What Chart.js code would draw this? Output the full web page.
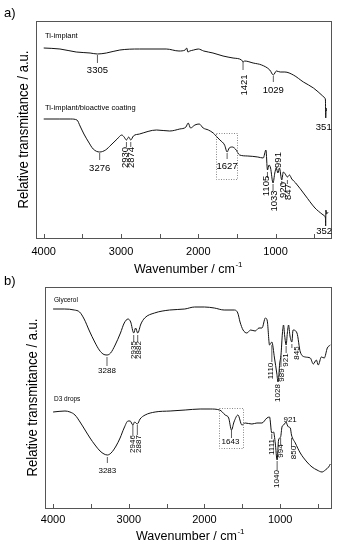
<!DOCTYPE html>
<html><head><meta charset="utf-8">
<script src="https://cdn.jsdelivr.net/npm/chart.js@4"></script>
<style>
html,body{margin:0;padding:0;background:#fff;width:339px;height:550px;overflow:hidden}
.w{position:absolute;left:0;width:339px;height:275px}
canvas{display:block}
</style></head>
<body>
<div class="w" style="top:0"><canvas id="ca" width="339" height="275"></canvas></div>
<div class="w" style="top:275px"><canvas id="cb" width="339" height="275"></canvas></div>
<script>
// ---------------- DATA (wavenumber in cm-1, relative transmittance in a.u.) ----------------
const tiImplantWn = [4000,3790,3580,3400,3305,3190,3015,2760,2415,2250,2170,2150,2135,2110,2060,2000,1930,1810,1680,1550,1440,1421,1400,1290,1180,1075,1029,990,940,880,770,640,510,390,362,355,351,347,343];
const tiImplantT  = [190,189,186,185,184,185,188,189,189,187,188,190,186,187,188,189,187,185,182,180,178,176,177,175,173,168,163,167,166,166,163,156,150,142,140,138,120,130,127];

const bioCoatWn = [4000,3800,3650,3570,3530,3480,3420,3360,3276,3200,3130,3050,2990,2960,2930,2900,2874,2840,2760,2540,2370,2240,2160,2131,2100,2044,1988,1937,1870,1807,1770,1720,1660,1627,1600,1560,1520,1465,1360,1230,1160,1125,1105,1085,1065,1033,1010,991,970,950,920,900,875,847,820,790,740,620,490,400,365,355,352,349,340,320];
const bioCoatT  = [119,119,119,118,112,104,96,89,86,88,93,99,103,101,98,101,98,102,104,108,107,109,111,115,110,113,114,110,108,105,102,98,93,86,90,91,89,83,82,81,80,88,68,73,70,55,65,70,65,70,58,66,64,61,63,59,55,43,30,24,22,20,12,28,24,26];

const glycerolWn = [4000,3850,3720,3650,3590,3520,3450,3390,3340,3288,3240,3180,3110,3060,3010,2975,2935,2910,2882,2840,2790,2660,2460,2260,2130,2000,1870,1740,1610,1560,1530,1490,1440,1390,1330,1280,1240,1195,1170,1140,1110,1075,1045,1028,1005,989,970,955,940,921,905,889,870,845,830,778,734,668,602,562,522,496,456,417,377,337];
const glycerolT  = [199,199,198,196,189,177,166,158,154,153,155,163,175,185,189,186,175,180,175,184,190,195,198,199,201,201,200,198,198,195,186,178,175,178,177,180,180,190,187,163,166,150,135,126,145,153,175,183,172,163,175,183,172,166,178,175,156,151,150,144,148,143,151,150,160,163];

const d3DropsWn = [4000,3843,3777,3711,3644,3578,3512,3446,3380,3327,3283,3234,3168,3115,3062,3009,2982,2946,2923,2887,2851,2784,2652,2454,2255,2057,1925,1800,1726,1680,1643,1610,1558,1505,1462,1373,1307,1241,1175,1140,1111,1087,1065,1040,1021,994,976,955,933,921,906,889,866,850,800,734,646,579,513,447,403,360,337];
const d3DropsT  = [96,97,96,93,86,78,70,63,57,54,53,55,62,70,80,87,87,83,86,84,89,93,96,97,98,99,99,98,93,90,78,86,93,83,85,84,85,85,90,91,75,76,65,48,68,71,81,83,85,86,83,81,80,73,65,55,46,41,38,36,38,41,44];

// peak labels (cm-1)
const tiImplantPeaks = [3305, 1421, 1029, 351];
const bioCoatPeaks   = [3276, 2930, 2874, 1627, 1105, 1033, 991, 920, 847, 352];
const glycerolPeaks  = [3288, 2935, 2882, 1110, 1028, 989, 921, 845];
const d3DropsPeaks   = [3283, 2946, 2887, 1643, 1111, 1040, 994, 850, 921];

// x-axis ticks
const xTickValues = [4000, 3500, 3000, 2500, 2000, 1500, 1000, 500];
const xTickLabels = ['4000', '', '3000', '', '2000', '', '1000', ''];

// ---------------- placement / style ----------------
const FONT = '"Liberation Sans", Arial, Helvetica, sans-serif';
const tiImplantPlace = [
  {ty:167.5, l:[183,175]},
  {ty:153, l:[176,168], r:true, dx:1.5},
  {ty:148, l:[162,156]},
  {ty:111, dx:-2}
];
const bioCoatPlace = [
  {ty:70, l:[85,78]},
  {ty:80.5, l:[96,91], r:true, dx:-1.5},
  {ty:80.5, l:[96,91], r:true, dx:1},
  {ty:72, l:[85,79]},
  {ty:52, l:[66,60], r:true, dx:-1},
  {ty:37, l:[54,47], r:true, dx:1.5},
  {ty:78, l:[71,68], r:true, dx:2.5},
  {ty:48, l:[57,53], r:true, dx:1.5},
  {ty:46, l:[58,54], r:true, dx:1},
  {ty:7, dx:-1.5}
];
const glycerolPlace = [
  {ty:137, l:[151,142]},
  {ty:158, l:[173,166], r:true},
  {ty:158, l:[173,166], r:true, dx:1.4},
  {ty:137, l:[163,146], r:true, dx:-1},
  {ty:115, r:true},
  {ty:133, l:[152,141], r:true, dx:1.3},
  {ty:148, l:[162,155], r:true},
  {ty:155, l:[164,160], r:true, dx:5}
];
const d3DropsPlace = [
  {ty:37, l:[51,45]},
  {ty:64, l:[83,73], r:true},
  {ty:64, l:[83,73], r:true, dx:1},
  {ty:66, l:[78,70], dx:-1},
  {ty:61, l:[74,69], r:true},
  {ty:29, l:[47,38], r:true},
  {ty:57, l:[70,63], r:true},
  {ty:55.5, l:[70,61], r:true, dx:2},
  {ty:88, dx:4}
];

function txt(ctx, s, x, y, size, o) {
  o = o || {};
  ctx.save();
  ctx.font = size + 'px ' + FONT;
  ctx.fillStyle = '#000';
  ctx.textAlign = o.align || 'center';
  ctx.textBaseline = 'middle';
  ctx.translate(x, y);
  if (o.rot) ctx.rotate(-Math.PI / 2);
  if (o.sx) ctx.scale(o.sx, 1);
  ctx.fillText(s, 0, 0);
  ctx.restore();
}

function panelPlugin(p) {
  return {
    id: 'panel' + p.letter,
    afterDraw(chart) {
      const ctx = chart.ctx, xs = chart.scales.x, ys = chart.scales.y, a = chart.chartArea;
      ctx.save();
      // frame
      ctx.strokeStyle = '#555'; ctx.lineWidth = 1;
      ctx.strokeRect(a.left + 0.5, a.top + 0.5, a.right - a.left - 1, a.bottom - a.top);
      // inward ticks on bottom
      ctx.beginPath();
      xTickValues.forEach(v => {
        const x = Math.round(xs.getPixelForValue(v)) + 0.5;
        ctx.moveTo(x, a.bottom); ctx.lineTo(x, a.bottom - 4);
      });
      ctx.stroke();
      // dotted box
      ctx.strokeStyle = '#888'; ctx.setLineDash([1, 1.5]);
      const bx1 = Math.round(xs.getPixelForValue(p.box[0])) + 0.5, bx2 = Math.round(xs.getPixelForValue(p.box[1])) + 0.5;
      const by1 = Math.round(ys.getPixelForValue(p.box[2])) + 0.5, by2 = Math.round(ys.getPixelForValue(p.box[3])) + 0.5;
      ctx.strokeRect(bx1, by1, bx2 - bx1, by2 - by1);
      ctx.setLineDash([]);
      // peak annotations
      ctx.strokeStyle = '#333'; ctx.lineWidth = 0.8;
      p.ann.forEach(g => {
        g.peaks.forEach((wn, i) => {
          const pl = g.place[i];
          const x = xs.getPixelForValue(wn);
          if (pl.l) {
            ctx.beginPath();
            ctx.moveTo(x, ys.getPixelForValue(pl.l[0]));
            ctx.lineTo(x, ys.getPixelForValue(pl.l[1]));
            ctx.stroke();
          }
          txt(ctx, String(wn), x + (pl.dx || 0), ys.getPixelForValue(pl.ty), p.annSize, {rot: pl.r});
        });
      });
      // series names
      p.names.forEach(n => txt(ctx, n.t, a.left + 9, ys.getPixelForValue(n.y), p.nameSize, {align: 'left'}));
      // y title
      txt(ctx, 'Relative transmitance / a.u.', p.yTitleX, (a.top + a.bottom) / 2, 14, {rot: true, sx: 0.93});
      // x title with superscript
      ctx.font = '12.5px ' + FONT;
      const main = 'Wavenumber / cm';
      const w1 = ctx.measureText(main).width;
      ctx.font = '8px ' + FONT;
      const w2 = ctx.measureText('-1').width;
      const x0 = p.xTitleX - (w1 + w2) / 2;
      txt(ctx, main, x0, p.xTitleY, 12.5, {align: 'left'});
      txt(ctx, '-1', x0 + w1 + 0.5, p.xTitleY - 5, 8, {align: 'left'});
      // panel letter
      txt(ctx, p.letter + ')', 4, p.letterY, 13, {align: 'left'});
      ctx.restore();
    }
  };
}

function makeChart(id, sets, p) {
  return new Chart(document.getElementById(id), {
    type: 'line',
    data: {
      datasets: sets.map(s => ({
        data: s.wn.map((w, i) => ({x: w, y: s.t[i]})),
        borderColor: '#111', borderWidth: 1, pointRadius: 0,
        cubicInterpolationMode: 'monotone', fill: false
      }))
    },
    options: {
      responsive: false, animation: false, devicePixelRatio: 1,
      layout: {padding: {top: p.padTop, left: p.padLeft, right: 7, bottom: 0}},
      plugins: {legend: {display: false}, tooltip: {enabled: false}},
      scales: {
        x: {
          type: 'linear', reverse: true, min: p.xmin, max: p.xmax,
          afterBuildTicks: s => { s.ticks = xTickValues.map(v => ({value: v})); },
          afterFit: s => { s.height = p.xHeight; },
          ticks: {
            autoSkip: false, maxRotation: 0, padding: p.tickPad, color: '#000',
            font: {family: FONT, size: 11},
            callback: v => xTickLabels[xTickValues.indexOf(v)] ?? ''
          },
          grid: {display: false, drawTicks: false},
          border: {display: false}
        },
        y: {display: false, min: 0, max: p.ymax}
      }
    },
    plugins: [panelPlugin(p)]
  });
}

makeChart('ca', [{wn: tiImplantWn, t: tiImplantT}, {wn: bioCoatWn, t: bioCoatT}], {
  letter: 'a', letterY: 13, padTop: 21, padLeft: 36, xHeight: 37, tickPad: 7,
  xmin: 270, xmax: 4100, ymax: 217, box: [1770, 1500, 105, 59],
  annSize: 9.5, nameSize: 7.5, yTitleX: 24, xTitleX: 188, xTitleY: 270,
  names: [{t: 'Ti-implant', y: 202}, {t: 'Ti-implant/bioactive coating', y: 130.5}],
  ann: [{peaks: tiImplantPeaks, place: tiImplantPlace}, {peaks: bioCoatPeaks, place: bioCoatPlace}]
});
makeChart('cb', [{wn: glycerolWn, t: glycerolT}, {wn: d3DropsWn, t: d3DropsT}], {
  letter: 'b', letterY: 6, padTop: 12, padLeft: 45, xHeight: 42, tickPad: 5,
  xmin: 315, xmax: 4107, ymax: 221, box: [1806, 1488, 100, 60],
  annSize: 8, nameSize: 6.5, yTitleX: 33, xTitleX: 190, xTitleY: 262,
  names: [{t: 'Glycerol', y: 207.5}, {t: 'D3 drops', y: 109}],
  ann: [{peaks: glycerolPeaks, place: glycerolPlace}, {peaks: d3DropsPeaks, place: d3DropsPlace}]
});
</script>
</body></html>
